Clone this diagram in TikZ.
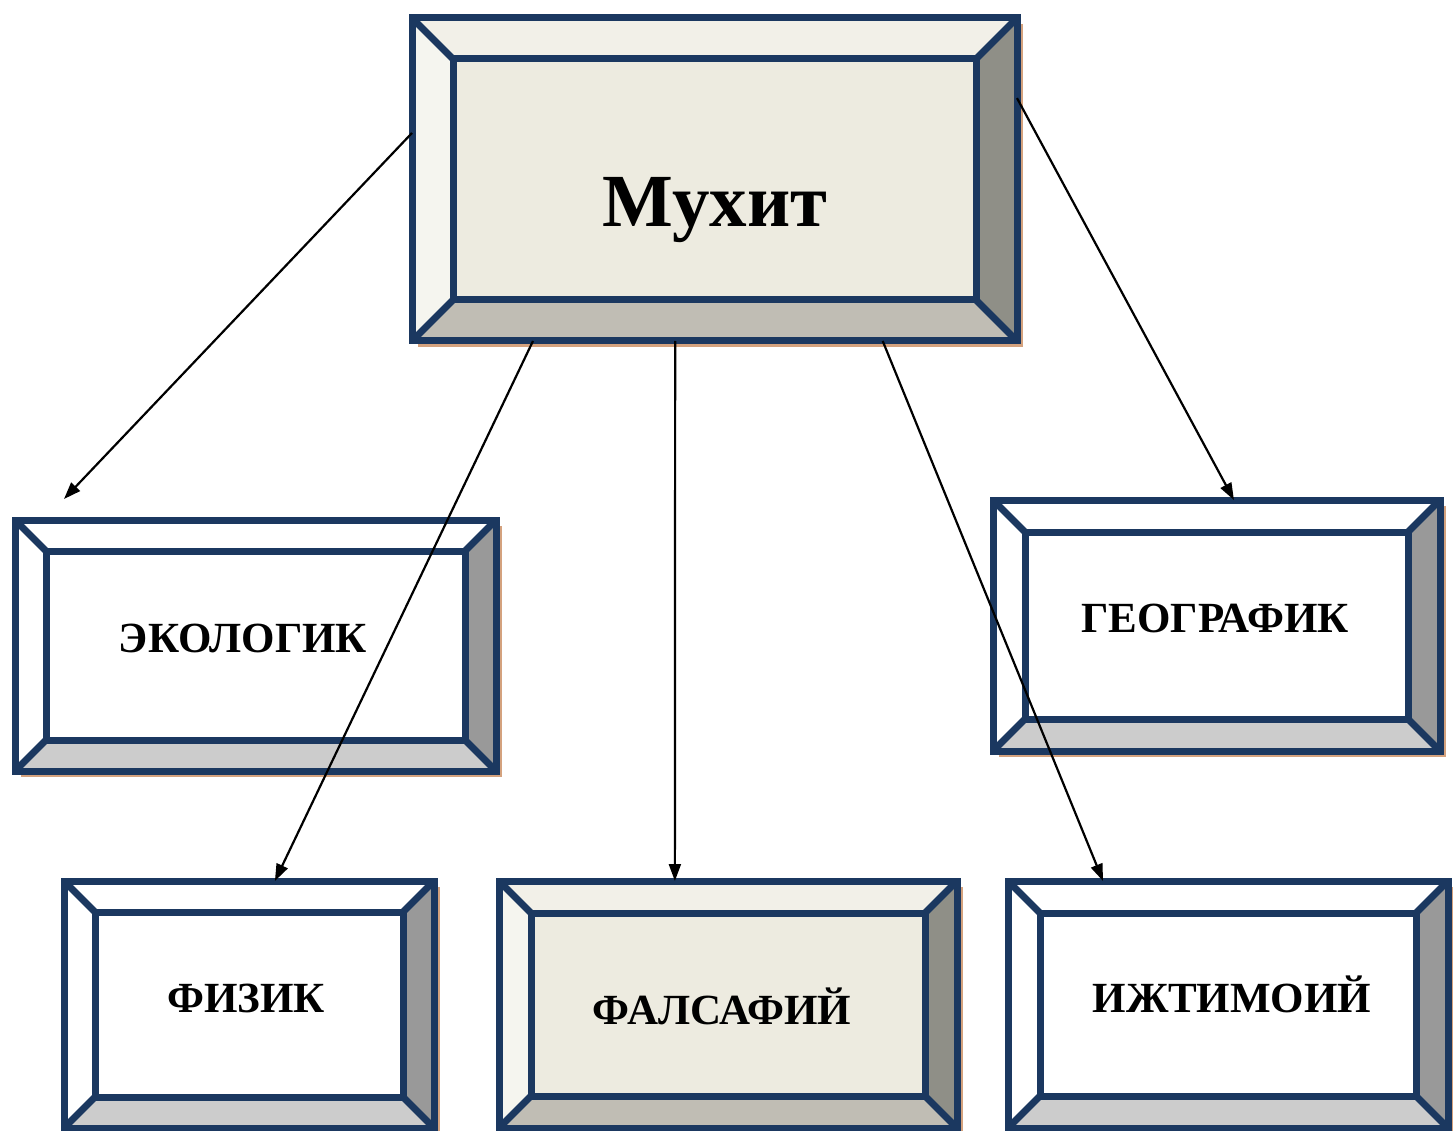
\documentclass[tikz,border=0pt]{standalone}
\usepackage{fontspec}
\setmainfont{Liberation Serif}
\usepackage{tikz}
\usetikzlibrary{arrows.meta, calc}
\definecolor{framenavy}{RGB}{27, 56, 96}
\definecolor{shadowtan}{RGB}{212, 162, 126}
\definecolor{creamtop}{RGB}{242, 240, 232}
\definecolor{creamleft}{RGB}{245, 245, 239}
\definecolor{creamface}{RGB}{237, 235, 224}
\definecolor{creamright}{RGB}{143, 143, 135}
\definecolor{creambottom}{RGB}{192, 189, 180}
\definecolor{plaintop}{RGB}{255, 255, 255}
\definecolor{plainleft}{RGB}{255, 255, 255}
\definecolor{plainface}{RGB}{255, 255, 255}
\definecolor{plainright}{RGB}{153, 153, 153}
\definecolor{plainbottom}{RGB}{204, 204, 204}

% bevelled box: name, centre, width, height, bevel, colour scheme
\newcommand{\bevelbox}[6]{%
  \node[boxshape, minimum width=#3pt, minimum height=#4pt] (#1) at (#2) {};
  \fill[shadowtan] ($(#1.north west)+(6,6)$) rectangle ($(#1.south east)+(6,6)$);
  \coordinate (#1-a) at ($(#1.north west)+(#5,#5)$);
  \coordinate (#1-b) at ($(#1.north east)+(-#5,#5)$);
  \coordinate (#1-c) at ($(#1.south east)+(-#5,-#5)$);
  \coordinate (#1-d) at ($(#1.south west)+(#5,-#5)$);
  \fill[#6top] (#1.north west) -- (#1.north east) -- (#1-b) -- (#1-a) -- cycle;
  \fill[#6left] (#1.north west) -- (#1-a) -- (#1-d) -- (#1.south west) -- cycle;
  \fill[#6right] (#1.north east) -- (#1.south east) -- (#1-c) -- (#1-b) -- cycle;
  \fill[#6bottom] (#1.south west) -- (#1-d) -- (#1-c) -- (#1.south east) -- cycle;
  \fill[#6face] (#1-a) rectangle (#1-c);
  \draw[frame] (#1.north west) rectangle (#1.south east);
  \draw[frame] (#1-a) rectangle (#1-c);
  \draw[frame] (#1.north west) -- (#1-a) (#1.north east) -- (#1-b)
    (#1.south east) -- (#1-c) (#1.south west) -- (#1-d);
}

\begin{document}
\begin{tikzpicture}[
    x=1pt, y=-1pt,
    boxshape/.style={rectangle, inner sep=0pt, outer sep=0pt},
    frame/.style={draw=framenavy, line width=7pt, line join=miter},
    lbl/.style={anchor=base, font=\bfseries\fontsize{43}{47}\selectfont},
    arrow/.style={-{Triangle[length=17pt, width=12pt]}, line width=2.2pt}
]
\useasboundingbox (0,0) rectangle (1453,1131);

\bevelbox{mukhit}{714.5,179.5}{605}{323}{41}{cream}
\bevelbox{ekolog}{255.5,645.5}{481}{251}{31}{plain}
\bevelbox{geograf}{1216.5,625.5}{447}{251}{32}{plain}
\bevelbox{fizik}{249,1004.5}{370}{247}{31}{plain}
\bevelbox{falsaf}{728,1004.5}{458}{247}{32}{cream}
\bevelbox{ijtimo}{1228,1004.5}{440}{247}{32}{plain}

\node[lbl, font=\bfseries\fontsize{75}{80}\selectfont] (mukhittext) at (715,227) {Мухит};
\node[lbl] (ekologtext) at (243,652) {ЭКОЛОГИК};
\node[lbl] (geograftext) at (1215,632) {ГЕОГРАФИК};
\node[lbl] (fiziktext) at (246,1012) {ФИЗИК};
\node[lbl] (falsaftext) at (722,1024) {ФАЛСАФИЙ};
\node[lbl] (ijtimotext) at (1232,1012) {ИЖТИМОИЙ};

\coordinate (ekologtip) at (64,499);

\draw[arrow] ($(mukhit.north west)!0.356!(mukhit.south west)$) -- (ekologtip);
\draw[arrow] ($(mukhit.south west)!0.2!(mukhit.south east)$) -- ($(fizik.north west)!0.57!(fizik.north east)$);
\draw[arrow] ($(mukhit.south west)!0.435!(mukhit.south east)$) -- ($(falsaf.north west)!0.384!(falsaf.north east)$);
\draw[arrow] ($(mukhit.south west)!0.778!(mukhit.south east)$) -- ($(ijtimo.north west)!0.216!(ijtimo.north east)$);
\draw[arrow] ($(mukhit.north east)!0.248!(mukhit.south east)$) -- ($(geograf.north west)!0.539!(geograf.north east)$);

\end{tikzpicture}
\end{document}
